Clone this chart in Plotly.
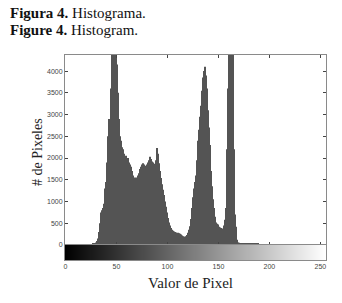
import plotly.graph_objects as go

# ---- data ----
pixel_values = list(range(256))
counts = (
    [0] * 20 +
    [5, 5, 8, 10, 12, 15, 20, 25, 30, 40] +                       # 20-29
    [60, 90, 150, 300, 500, 750, 800, 850, 950, 1300] +            # 30-39
    [1450, 1900, 2500, 2900, 3600, 4600, 5200, 5600, 5400, 5000] + # 40-49
    [4500, 4150, 3500, 2900, 2500, 2400, 2250, 2200, 2100, 2050] + # 50-59
    [1950, 2000, 1900, 1850, 1800, 1700, 1600, 1550, 1500, 1550] + # 60-69
    [1520, 1600, 1650, 1750, 1800, 1850, 1880, 1850, 1820, 1780] + # 70-79
    [1850, 1900, 1950, 2030, 1980, 1920, 1900, 1870, 1840, 1950] + # 80-89
    [2230, 2100, 1880, 1700, 1540, 1400, 1270, 1150, 1000, 880] +  # 90-99
    [750, 620, 520, 450, 390, 350, 330, 310, 300, 290] +           # 100-109
    [280, 270, 260, 240, 220, 200, 190, 190, 200, 230] +           # 110-119
    [280, 350, 430, 600, 850, 1100, 1300, 1450, 1600, 1950] +      # 120-129
    [2400, 2650, 2950, 3200, 3550, 3850, 4000, 4100, 3900, 3600] + # 130-139
    [3100, 2700, 2300, 1700, 1350, 1050, 850, 650, 520, 490] +     # 140-149
    [470, 420, 400, 390, 380, 450, 580, 850, 2200, 3600] +         # 150-159
    [5500, 6500, 6800, 6200, 5000, 2200, 700, 420, 120, 60] +      # 160-169
    [50, 48, 46, 45, 44, 43, 42, 42, 41, 40] +                     # 170-179
    [40, 38, 36, 35, 34, 32, 30, 28, 26, 25] +                     # 180-189
    [20, 15, 12, 10, 8, 6, 5, 4, 3, 2] +                           # 190-199
    [0] * 56
)
y_ticks = [0, 500, 1000, 1500, 2000, 2500, 3000, 3500, 4000]
x_ticks = [0, 50, 100, 150, 200, 250]
title_es = "<b>Figura 4.</b> Histograma."
title_en = "<b>Figure 4.</b> Histogram."
y_title = "# de Pixeles"
x_title = "Valor de Pixel"

serif = "Liberation Serif"
frame = "#8a8a8a"

fig = go.Figure()
fig.add_trace(go.Bar(x=pixel_values, y=counts, marker=dict(color="#545454", line=dict(width=0)),
                     xaxis="x", yaxis="y", showlegend=False))
fig.add_trace(go.Heatmap(x=pixel_values, y=[0], z=[pixel_values],
                         colorscale=[[0, "#000000"], [1, "#ffffff"]], showscale=False,
                         xaxis="x2", yaxis="y2"))

W, H = 342, 303
ml, mr, mt, mb = 65, 16, 55, 43
pw = W - ml - mr
ph = H - mt - mb
split = 15 / ph


def px(x):
    return (x - ml) / pw


def py(y):
    return (H - mb - y) / ph


fig.update_layout(
    width=W, height=H, margin=dict(l=ml, r=mr, t=mt, b=mb, autoexpand=False),
    paper_bgcolor="white", plot_bgcolor="white", bargap=0.3,
    font=dict(family="Liberation Sans", size=7, color="#333333"),
    xaxis=dict(domain=[0, 1], anchor="y", range=[-0.5, 255.5], tickvals=x_ticks,
               showticklabels=False, ticks="inside", ticklen=3, tickcolor="#444",
               showline=True, linecolor=frame, linewidth=1, mirror="ticks",
               showgrid=False, zeroline=False, automargin=False),
    yaxis=dict(domain=[split, 1], anchor="x", range=[0, 4370], tickvals=y_ticks,
               ticks="inside", ticklen=3, tickcolor="#444",
               showline=True, linecolor=frame, linewidth=1, mirror="ticks",
               showgrid=False, zeroline=False, automargin=False,
               tickfont=dict(size=7, color="#444")),
    xaxis2=dict(domain=[0, 1], anchor="y2", matches="x", range=[-0.5, 255.5], tickvals=x_ticks,
                ticks="", showline=True, linecolor=frame, linewidth=1, mirror=True,
                showgrid=False, zeroline=False, automargin=False,
                tickfont=dict(size=7, color="#444")),
    yaxis2=dict(domain=[0, split], anchor="x2", showticklabels=False, ticks="",
                showline=True, linecolor=frame, linewidth=1, mirror=True,
                showgrid=False, zeroline=False, automargin=False),
    annotations=[
        dict(text=title_es, x=px(8), y=py(13), xref="paper", yref="paper",
             xanchor="left", yanchor="middle", showarrow=False,
             font=dict(family=serif, size=15, color="#111")),
        dict(text=title_en, x=px(8), y=py(30), xref="paper", yref="paper",
             xanchor="left", yanchor="middle", showarrow=False,
             font=dict(family=serif, size=15, color="#111")),
        dict(text=y_title, x=px(37), y=py(152), xref="paper", yref="paper",
             xanchor="center", yanchor="middle", showarrow=False, textangle=-90,
             font=dict(family=serif, size=14, color="#222")),
        dict(text=x_title, x=px(190), y=py(283), xref="paper", yref="paper",
             xanchor="center", yanchor="middle", showarrow=False,
             font=dict(family=serif, size=15, color="#222")),
    ],
)

fig.write_html("out.html", config={"displayModeBar": False},
               post_script="document.body.style.margin='0';document.body.style.padding='0';")
